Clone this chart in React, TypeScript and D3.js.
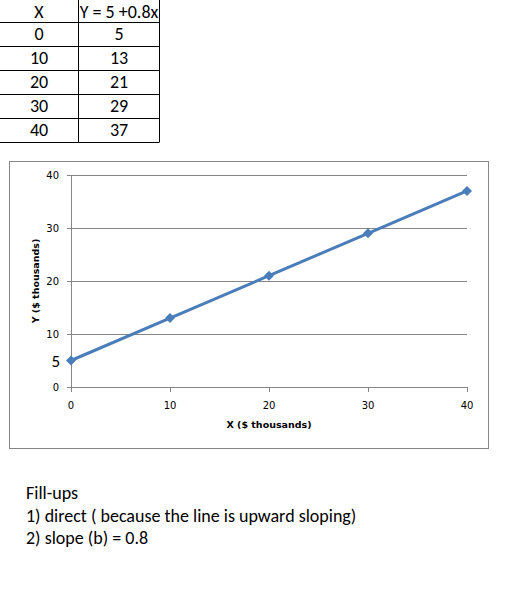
import React from "react";
import * as d3 from "d3";

// table + chart data
const tableHeaders = ["X", "Y = 5 +0.8x"];
const xValues = [0, 10, 20, 30, 40];
const yValues = [5, 13, 21, 29, 37];
const xTicks = [0, 10, 20, 30, 40];
const yTicks = [0, 10, 20, 30, 40];
const extraYLabel = 5;
const xTitle = "X ($ thousands)";
const yTitle = "Y ($ thousands)";
const notes = [
  "Fill-ups",
  "1) direct ( because the line is upward sloping)",
  "2) slope (b) = 0.8",
];

const W = 507;
const H = 602;
const BLUE = "#4a7ebb";
const GRID = "#868686";
const BODY_FONT = "Calibri, Carlito, 'Open Sans', sans-serif";
const CHART_FONT = "'DejaVu Sans', Verdana, sans-serif";

const plot = { left: 71, right: 467, top: 175, bottom: 387 };

const App = () => {
  const x = d3.scaleLinear().domain([0, 40]).range([plot.left, plot.right]);
  const y = d3.scaleLinear().domain([0, 40]).range([plot.bottom, plot.top]);

  const points = xValues.map((v, i) => [v, yValues[i]] as [number, number]);
  const line = d3
    .line<[number, number]>()
    .x(d => x(d[0]))
    .y(d => y(d[1]));

  // square turned 45deg -> even diamond like Excel's marker
  const diamond = d3.symbol().type(d3.symbolSquare).size(50)() || "";

  // table geometry
  const rowTop = 22;
  const rowH = 24;
  const colMid = [39, 119];
  const rowLines = d3.range(xValues.length + 1).map(i => rowTop + i * rowH);

  return (
    <div style={{ position: "absolute", left: 0, top: 0 }}>
      <svg width={W} height={H} style={{ display: "block", background: "#fff" }}>
        {/* table */}
        <g fontFamily={BODY_FONT} fontSize={18} fill="#000">
          {rowLines.map(ly => (
            <line key={ly} x1={0} x2={159.5} y1={ly + 0.5} y2={ly + 0.5} stroke="#000" />
          ))}
          <line x1={78.5} x2={78.5} y1={0} y2={142} stroke="#000" />
          <line x1={159.5} x2={159.5} y1={0} y2={142} stroke="#000" />
          {tableHeaders.map((h, i) => (
            <text key={h} x={colMid[i]} y={18} textAnchor="middle">
              {h}
            </text>
          ))}
          {xValues.map((v, i) => (
            <g key={v}>
              <text x={colMid[0]} y={rowTop + i * rowH + 18} textAnchor="middle">
                {v}
              </text>
              <text x={colMid[1]} y={rowTop + i * rowH + 18} textAnchor="middle">
                {yValues[i]}
              </text>
            </g>
          ))}
        </g>

        {/* chart frame */}
        <rect x={9.5} y={161.5} width={479} height={287} fill="#fff" stroke={GRID} />

        {/* gridlines + y ticks */}
        <g fontFamily={CHART_FONT} fontSize={10} fill="#000">
          {yTicks.map(t => (
            <g key={t}>
              {t > 0 && (
                <line x1={plot.left} x2={plot.right} y1={Math.round(y(t)) + 0.5} y2={Math.round(y(t)) + 0.5} stroke={GRID} />
              )}
              <line x1={plot.left - 4} x2={plot.left} y1={Math.round(y(t)) + 0.5} y2={Math.round(y(t)) + 0.5} stroke={GRID} />
              <text x={59} y={y(t) + 3.5} textAnchor="end">
                {t}
              </text>
            </g>
          ))}
          {/* axes */}
          <line x1={plot.left + 0.5} x2={plot.left + 0.5} y1={plot.top} y2={plot.bottom} stroke={GRID} />
          <line x1={plot.left} x2={plot.right} y1={plot.bottom + 0.5} y2={plot.bottom + 0.5} stroke={GRID} />
          {xTicks.map(t => (
            <g key={t}>
              <line x1={Math.round(x(t)) + 0.5} x2={Math.round(x(t)) + 0.5} y1={plot.bottom} y2={plot.bottom + 5} stroke={GRID} />
              <text x={x(t)} y={409} textAnchor="middle">
                {t}
              </text>
            </g>
          ))}
          <text x={(plot.left + plot.right) / 2} y={428} textAnchor="middle" fontWeight="bold" fontSize={9.5}>
            {xTitle}
          </text>
          <text
            transform={`translate(38.5,${(plot.top + plot.bottom) / 2}) rotate(-90)`}
            textAnchor="middle"
            fontWeight="bold"
            fontSize={9.5}
          >
            {yTitle}
          </text>
        </g>
        <text x={60} y={367} textAnchor="end" fontFamily={BODY_FONT} fontSize={17} fill="#000">
          {extraYLabel}
        </text>

        {/* series */}
        <path d={line(points) || ""} fill="none" stroke={BLUE} strokeWidth={3} strokeLinejoin="round" />
        {points.map(p => (
          <path key={p[0]} d={diamond} transform={`translate(${x(p[0])},${y(p[1])}) rotate(45)`} fill={BLUE} />
        ))}

        {/* notes */}
        <g fontFamily={BODY_FONT} fontSize={18} fill="#000">
          {notes.map((n, i) => (
            <text key={n} x={26} y={499 + i * 22.5}>
              {n}
            </text>
          ))}
        </g>
      </svg>
    </div>
  );
};

export default App;
